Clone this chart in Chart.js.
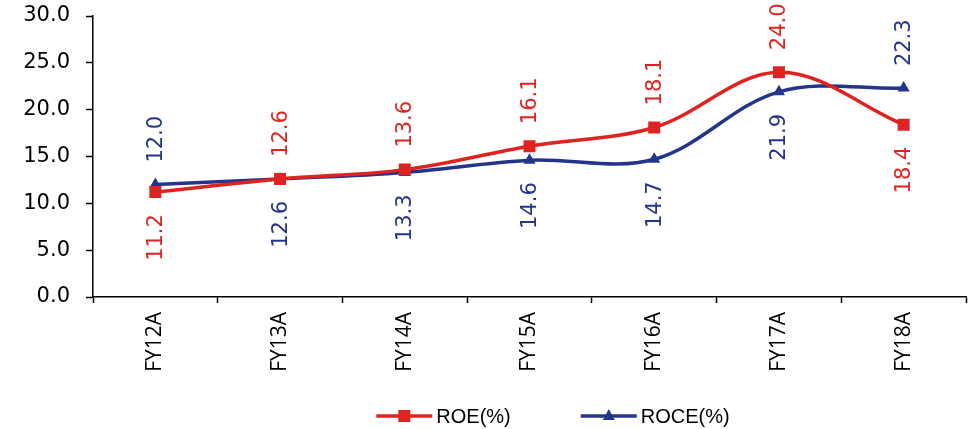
<!DOCTYPE html>
<html>
<head>
<meta charset="utf-8">
<script src="https://cdn.jsdelivr.net/npm/chart.js@4/dist/chart.umd.min.js"></script>
<style>
  html, body { margin: 0; padding: 0; background: #ffffff; }
  #wrap { width: 970px; height: 429px; position: relative; }
</style>
</head>
<body>
<div id="wrap"><canvas id="c" width="970" height="429"></canvas></div>
<script>
// Return ratios by fiscal year
const years = ['FY12A', 'FY13A', 'FY14A', 'FY15A', 'FY16A', 'FY17A', 'FY18A'];
const roe = [11.2, 12.6, 13.6, 16.1, 18.1, 24.0, 18.4];
const roce = [12.0, 12.6, 13.3, 14.6, 14.7, 21.9, 22.3];
const seriesNames = ['ROE(%)', 'ROCE(%)'];
const yTicks = [0, 5, 10, 15, 20, 25, 30];

const RED = '#DF2320';
const NAVY = '#22358A';
const NUM_FONT = "'DejaVu Sans', sans-serif";

// Rotated value labels: the higher series of each year is labelled above its point,
// the lower one below (ties go to the first series).
const valueLabels = {
  id: 'valueLabels',
  afterDatasetsDraw(chart) {
    const ctx = chart.ctx;
    const sets = chart.data.datasets;
    ctx.save();
    ctx.font = '21px ' + NUM_FONT;
    ctx.textAlign = 'center';
    ctx.textBaseline = 'middle';
    sets.forEach((ds, i) => {
      const other = sets[1 - i].data;
      const meta = chart.getDatasetMeta(i);
      meta.data.forEach((pt, j) => {
        const v = ds.data[j];
        const text = v.toFixed(1);
        const w = ctx.measureText(text).width;
        const above = i === 0 ? v >= other[j] : v > other[j];
        const gap = 22;
        const y = above ? pt.y - gap - w / 2 : pt.y + gap + w / 2;
        ctx.save();
        ctx.translate(pt.x + 1, y);
        ctx.rotate(-Math.PI / 2);
        ctx.fillStyle = ds.borderColor;
        ctx.fillText(text, 0, 0);
        ctx.restore();
      });
    });
    ctx.restore();
  }
};

// Legend with a line sample and marker for each series
const lineLegend = {
  id: 'lineLegend',
  afterDraw(chart) {
    const ctx = chart.ctx;
    const sets = chart.data.datasets;
    const lineLen = 56, textGap = 4, itemGap = 70;
    const cy = 416;
    ctx.save();
    ctx.font = "20px 'Liberation Sans', Arial, sans-serif";
    const widths = sets.map(ds => lineLen + textGap + ctx.measureText(ds.label).width);
    const total = widths.reduce((a, b) => a + b, 0) + itemGap * (sets.length - 1);
    let x = 553 - total / 2;
    sets.forEach((ds, i) => {
      ctx.strokeStyle = ds.borderColor;
      ctx.lineWidth = 3.5;
      ctx.beginPath();
      ctx.moveTo(x, cy);
      ctx.lineTo(x + lineLen, cy);
      ctx.stroke();
      const mx = x + lineLen / 2;
      ctx.fillStyle = ds.borderColor;
      ctx.beginPath();
      if (ds.pointStyle === 'rect') {
        ctx.rect(mx - 6, cy - 6, 12, 12);
      } else {
        ctx.moveTo(mx, cy - 7);
        ctx.lineTo(mx + 6, cy + 4);
        ctx.lineTo(mx - 6, cy + 4);
        ctx.closePath();
      }
      ctx.fill();
      ctx.fillStyle = '#000000';
      ctx.textAlign = 'left';
      ctx.textBaseline = 'middle';
      ctx.fillText(ds.label, x + lineLen + textGap, cy + 1);
      x += widths[i] + itemGap;
    });
    ctx.restore();
  }
};

new Chart(document.getElementById('c'), {
  type: 'line',
  data: {
    labels: years,
    datasets: [
      {
        label: seriesNames[0],
        data: roe,
        borderColor: RED,
        backgroundColor: RED,
        borderWidth: 3.5,
        pointStyle: 'rect',
        pointRadius: 8.5,
        pointHoverRadius: 8.5,
        pointBorderWidth: 0,
        tension: 0.35,
        fill: false
      },
      {
        label: seriesNames[1],
        data: roce,
        borderColor: NAVY,
        backgroundColor: NAVY,
        borderWidth: 3.5,
        pointStyle: 'triangle',
        pointRadius: 7,
        pointHoverRadius: 7,
        pointBorderWidth: 0,
        tension: 0.35,
        fill: false
      }
    ]
  },
  options: {
    responsive: false,
    animation: false,
    events: [],
    layout: { autoPadding: false, padding: { top: 16, right: 4, left: 0, bottom: 0 } },
    plugins: {
      legend: { display: false },
      tooltip: { enabled: false }
    },
    scales: {
      x: {
        offset: true,
        afterFit(s) {
          s.height = 132;
          s.paddingLeft = 0;
          s.paddingRight = 0;
        },
        grid: {
          offset: true,
          drawOnChartArea: false,
          drawTicks: true,
          tickLength: 6,
          tickWidth: 1.5,
          tickColor: '#000000'
        },
        border: { color: '#000000', width: 1.5 },
        ticks: {
          color: '#000000',
          font: { family: "'Open Sans', sans-serif", size: 21 },
          minRotation: 90,
          maxRotation: 90,
          padding: 9,
          autoSkip: false
        }
      },
      y: {
        min: 0,
        max: 30,
        afterFit(s) {
          s.width = 93;
          s.paddingTop = 0;
          s.paddingBottom = 0;
        },
        afterBuildTicks(s) { s.ticks = yTicks.map(v => ({ value: v })); },
        grid: {
          drawOnChartArea: false,
          drawTicks: true,
          tickLength: 7,
          tickWidth: 1.5,
          tickColor: '#000000'
        },
        border: { color: '#000000', width: 1.5 },
        ticks: {
          color: '#000000',
          font: { family: NUM_FONT, size: 21 },
          padding: 16,
          callback: v => Number(v).toFixed(1)
        }
      }
    }
  },
  plugins: [valueLabels, lineLegend]
});
</script>
</body>
</html>
